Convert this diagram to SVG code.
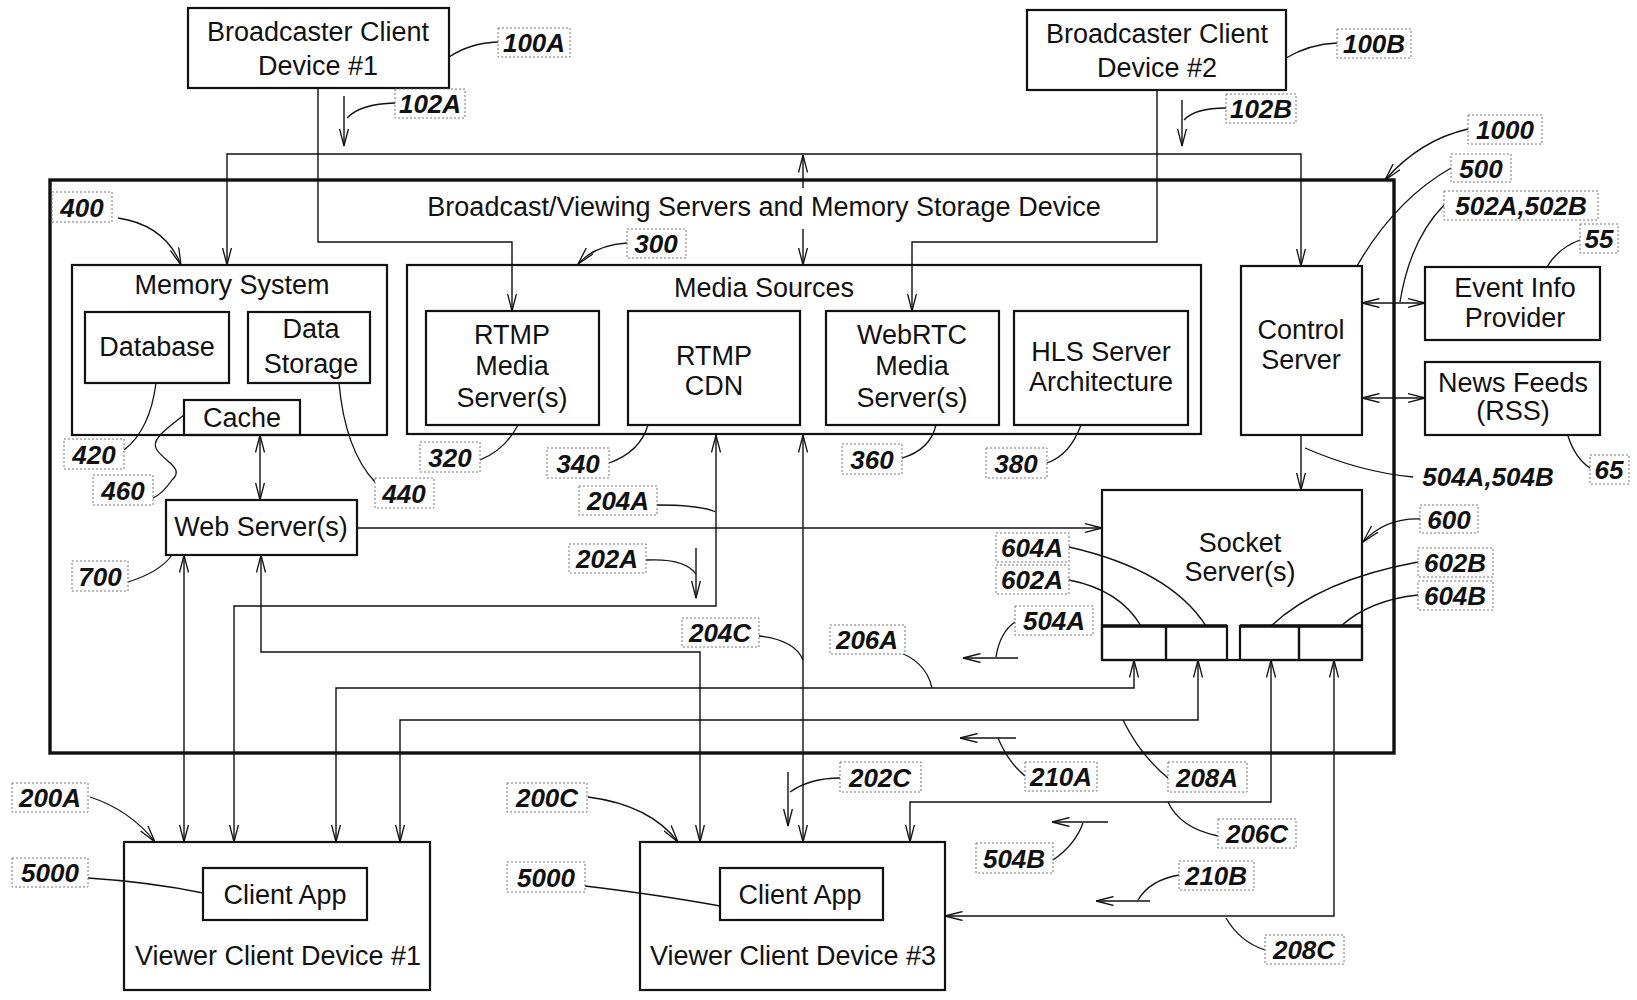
<svg xmlns="http://www.w3.org/2000/svg" width="1637" height="1000" viewBox="0 0 1637 1000">
<style>
.bx{fill:none;stroke:#111;stroke-width:2.2}
.outer{fill:none;stroke:#111;stroke-width:3.4}
.t{font-family:"Liberation Sans",Arial,sans-serif;font-size:27px;fill:#111;text-anchor:middle}
.lb rect{fill:#fff;stroke:#777;stroke-width:1;stroke-dasharray:2 2}
.lb text,.lt{font-family:"Liberation Sans",Arial,sans-serif;font-weight:bold;font-style:italic;font-size:26px;fill:#111;text-anchor:middle}
.ln{fill:none;stroke:#111;stroke-width:1.4}
.ld{fill:none;stroke:#111;stroke-width:1.3}
.a{marker-end:url(#ar)}
.aa{marker-start:url(#ar);marker-end:url(#ar)}
</style>
<defs>
<marker id="ar" viewBox="0 0 18 10" refX="17.5" refY="5" markerWidth="18" markerHeight="10" markerUnits="userSpaceOnUse" orient="auto-start-reverse">
<path d="M0,0.5 L17.5,5 L0,9.5" fill="none" stroke="#111" stroke-width="1.3"/>
</marker>
</defs>
<rect width="1637" height="1000" fill="#fff"/>

<g id="outer-1000">
<rect class="outer" x="50" y="180" width="1344" height="573"/>
<text class="t" x="764" y="216">Broadcast/Viewing Servers and Memory Storage Device</text>
</g>

<g id="connectors">
<path class="ln a" d="M318,88 V242 H512 V311"/>
<path class="ln a" d="M1157,90 V242 H912 V311"/>
<path class="ln aa" d="M227,265 V154 H1301 V266"/>
<path class="ln a" d="M803,188 V155"/>
<path class="ln a" d="M803,229 V265"/>
<path class="ln a" d="M1301,435 V490"/>
<path class="ln aa" d="M1362,303 H1425"/>
<path class="ln aa" d="M1362,398 H1425"/>
<path class="ln aa" d="M260,435 V500"/>
<path class="ln a" d="M357,528 H1102"/>
<path class="ln aa" d="M184,555 V842"/>
<path class="ln aa" d="M716,435 V606 H234 V842"/>
<path class="ln aa" d="M803,435 V842"/>
<path class="ln aa" d="M261,555 V652 H700 V842"/>
<path class="ln aa" d="M1134,660 V688 H336 V842"/>
<path class="ln aa" d="M1198,660 V720 H400 V842"/>
<path class="ln aa" d="M1271,660 V802 H910 V842"/>
<path class="ln aa" d="M1334,660 V916 H945"/>
<!-- direction indicators -->
<path class="ln a" d="M344,96 V146"/>
<path class="ln a" d="M1182,100 V146"/>
<path class="ln a" d="M696,548 V598"/>
<path class="ln a" d="M788,772 V826"/>
<path class="ln a" d="M1018,658 H963"/>
<path class="ln a" d="M1016,738 H960"/>
<path class="ln a" d="M1108,822 H1052"/>
<path class="ln a" d="M1150,901 H1096"/>
<!-- leaders -->
<path class="ld" d="M449,57 Q470,43 498,42"/>
<path class="ld" d="M347,118 Q360,104 395,103"/>
<path class="ld" d="M1286,58 Q1310,44 1337,43"/>
<path class="ld" d="M1184,120 Q1195,108 1226,108"/>
<path class="ld a" d="M1468,129 Q1420,140 1385,180"/>
<path class="ld" d="M1451,168 Q1395,200 1357,266"/>
<path class="ld" d="M1444,205 Q1410,240 1400,302"/>
<path class="ld" d="M1580,240 Q1558,248 1547,267"/>
<path class="ld" d="M1568,436 Q1575,458 1590,468"/>
<path class="ld" d="M1305,448 Q1360,472 1413,477"/>
<path class="ld a" d="M1420,519 Q1385,518 1363,542"/>
<path class="ld" d="M1069,547 Q1170,570 1206,626"/>
<path class="ld" d="M1069,580 Q1120,590 1141,626"/>
<path class="ld" d="M1418,562 Q1320,580 1271,626"/>
<path class="ld" d="M1418,595 Q1370,600 1341,626"/>
<path class="ld" d="M1015,622 Q1000,632 996,657"/>
<path class="ld" d="M893,650 Q926,660 932,688"/>
<path class="ld" d="M1123,720 Q1140,755 1168,778"/>
<path class="ld" d="M998,738 Q1008,762 1025,776"/>
<path class="ld" d="M840,778 Q810,778 790,792"/>
<path class="ld" d="M1168,802 Q1180,828 1218,836"/>
<path class="ld" d="M1083,823 Q1075,845 1053,860"/>
<path class="ld" d="M1179,875 Q1150,880 1138,900"/>
<path class="ld" d="M1226,918 Q1240,942 1265,950"/>
<path class="ld a" d="M90,797 Q130,810 155,842"/>
<path class="ld" d="M88,878 Q150,882 203,893"/>
<path class="ld a" d="M588,797 Q650,805 678,842"/>
<path class="ld" d="M585,886 Q660,895 720,906"/>
<path class="ld a" d="M118,218 Q165,225 181,265"/>
<path class="ld" d="M156,383 Q150,430 124,450"/>
<path class="ld" d="M184,415 C165,430 150,440 157,450 C165,462 185,468 172,480 C165,490 160,495 153,498"/>
<path class="ld" d="M339,383 Q345,450 375,482"/>
<path class="ld" d="M128,582 Q160,572 172,555"/>
<path class="ld a" d="M627,243 Q595,245 578,264"/>
<path class="ld" d="M518,425 Q505,450 480,460"/>
<path class="ld" d="M648,425 Q640,452 609,463"/>
<path class="ld" d="M936,425 Q930,450 902,458"/>
<path class="ld" d="M1081,425 Q1070,455 1047,463"/>
<path class="ld" d="M657,505 Q700,505 716,512"/>
<path class="ld" d="M646,560 Q685,558 696,574"/>
<path class="ld" d="M759,636 Q795,640 803,660"/>
</g>

<g id="bcd1"><rect class="bx" x="188" y="8" width="261" height="80"/><text class="t" x="318" y="41">Broadcaster Client</text><text class="t" x="318" y="75">Device #1</text></g>
<g id="bcd2"><rect class="bx" x="1027" y="10" width="259" height="80"/><text class="t" x="1157" y="43">Broadcaster Client</text><text class="t" x="1157" y="77">Device #2</text></g>

<g id="memory-system"><rect class="bx" x="72" y="265" width="315" height="170"/><text class="t" x="232" y="294">Memory System</text></g>
<g id="database"><rect class="bx" x="85" y="312" width="144" height="71"/><text class="t" x="157" y="356">Database</text></g>
<g id="data-storage"><rect class="bx" x="248" y="312" width="122" height="71"/><text class="t" x="311" y="338">Data</text><text class="t" x="311" y="373">Storage</text></g>
<g id="cache"><rect class="bx" x="184" y="400" width="116" height="35"/><text class="t" x="242" y="427">Cache</text></g>
<g id="web-server"><rect class="bx" x="166" y="500" width="191" height="55"/><text class="t" x="261" y="536">Web Server(s)</text></g>

<g id="media-sources"><rect class="bx" x="407" y="265" width="794" height="169"/><text class="t" x="764" y="297">Media Sources</text></g>
<g id="rtmp-media"><rect class="bx" x="426" y="311" width="173" height="114"/><text class="t" x="512" y="344">RTMP</text><text class="t" x="512" y="375">Media</text><text class="t" x="512" y="407">Server(s)</text></g>
<g id="rtmp-cdn"><rect class="bx" x="628" y="311" width="172" height="114"/><text class="t" x="714" y="365">RTMP</text><text class="t" x="714" y="395">CDN</text></g>
<g id="webrtc"><rect class="bx" x="826" y="311" width="173" height="114"/><text class="t" x="912" y="344">WebRTC</text><text class="t" x="912" y="375">Media</text><text class="t" x="912" y="407">Server(s)</text></g>
<g id="hls"><rect class="bx" x="1014" y="311" width="174" height="114"/><text class="t" x="1101" y="361">HLS Server</text><text class="t" x="1101" y="391">Architecture</text></g>

<g id="control-server"><rect class="bx" x="1241" y="266" width="121" height="169"/><text class="t" x="1301" y="339">Control</text><text class="t" x="1301" y="369">Server</text></g>
<g id="event-info"><rect class="bx" x="1425" y="267" width="175" height="73"/><text class="t" x="1515" y="297">Event Info</text><text class="t" x="1515" y="327">Provider</text></g>
<g id="news-feeds"><rect class="bx" x="1425" y="362" width="175" height="73"/><text class="t" x="1513" y="392">News Feeds</text><text class="t" x="1513" y="420">(RSS)</text></g>

<g id="socket-server"><rect class="bx" x="1102" y="490" width="260" height="170"/><text class="t" x="1240" y="552">Socket</text><text class="t" x="1240" y="581">Server(s)</text>
<rect class="bx" x="1102" y="626" width="64" height="34"/><rect class="bx" x="1166" y="626" width="61" height="34"/>
<rect class="bx" x="1240" y="626" width="59" height="34"/><rect class="bx" x="1299" y="626" width="63" height="34"/>
<path d="M1102,626 H1227 M1240,626 H1362" stroke="#111" stroke-width="3.5"/></g>

<g id="viewer1"><rect class="bx" x="124" y="842" width="306" height="148"/><rect class="bx" x="203" y="868" width="164" height="52"/><text class="t" x="285" y="904">Client App</text><text class="t" x="278" y="965">Viewer Client Device #1</text></g>
<g id="viewer3"><rect class="bx" x="640" y="842" width="305" height="148"/><rect class="bx" x="720" y="868" width="163" height="52"/><text class="t" x="800" y="904">Client App</text><text class="t" x="793" y="965">Viewer Client Device #3</text></g>

<g id="labels">
<g class="lb"><rect x="498" y="28" width="72" height="29"/><text x="534" y="52">100A</text></g>
<g class="lb"><rect x="395" y="89" width="70" height="29"/><text x="430" y="113">102A</text></g>
<g class="lb"><rect x="1337" y="29" width="74" height="29"/><text x="1374" y="53">100B</text></g>
<g class="lb"><rect x="1226" y="94" width="70" height="29"/><text x="1261" y="118">102B</text></g>
<g class="lb"><rect x="1468" y="115" width="74" height="29"/><text x="1505" y="139">1000</text></g>
<g class="lb"><rect x="1451" y="154" width="60" height="28"/><text x="1481" y="178">500</text></g>
<g class="lb"><rect x="1444" y="191" width="154" height="29"/><text x="1521" y="215">502A,502B</text></g>
<g class="lb"><rect x="1580" y="224" width="38" height="29"/><text x="1599" y="248">55</text></g>
<g class="lb"><rect x="1590" y="455" width="39" height="29"/><text x="1609" y="479">65</text></g>
<text class="lt" x="1488" y="486">504A,504B</text>
<g class="lb"><rect x="1420" y="505" width="58" height="28"/><text x="1449" y="529">600</text></g>
<g class="lb"><rect x="996" y="533" width="73" height="29"/><text x="1032" y="557">604A</text></g>
<g class="lb"><rect x="996" y="565" width="73" height="29"/><text x="1032" y="589">602A</text></g>
<g class="lb"><rect x="1418" y="548" width="75" height="29"/><text x="1455" y="572">602B</text></g>
<g class="lb"><rect x="1418" y="581" width="75" height="29"/><text x="1455" y="605">604B</text></g>
<g class="lb"><rect x="1015" y="606" width="78" height="29"/><text x="1054" y="630">504A</text></g>
<g class="lb"><rect x="830" y="625" width="75" height="29"/><text x="867" y="649">206A</text></g>
<g class="lb"><rect x="579" y="486" width="78" height="29"/><text x="618" y="510">204A</text></g>
<g class="lb"><rect x="569" y="544" width="77" height="29"/><text x="607" y="568">202A</text></g>
<g class="lb"><rect x="682" y="618" width="77" height="29"/><text x="720" y="642">204C</text></g>
<g class="lb"><rect x="1168" y="762" width="79" height="30"/><text x="1207" y="787">208A</text></g>
<g class="lb"><rect x="1025" y="762" width="72" height="29"/><text x="1061" y="786">210A</text></g>
<g class="lb"><rect x="840" y="762" width="81" height="30"/><text x="880" y="787">202C</text></g>
<g class="lb"><rect x="1218" y="819" width="78" height="29"/><text x="1257" y="843">206C</text></g>
<g class="lb"><rect x="976" y="843" width="77" height="30"/><text x="1014" y="868">504B</text></g>
<g class="lb"><rect x="1179" y="861" width="75" height="29"/><text x="1216" y="885">210B</text></g>
<g class="lb"><rect x="1265" y="935" width="79" height="29"/><text x="1304" y="959">208C</text></g>
<g class="lb"><rect x="12" y="783" width="76" height="29"/><text x="50" y="807">200A</text></g>
<g class="lb"><rect x="12" y="858" width="76" height="29"/><text x="50" y="882">5000</text></g>
<g class="lb"><rect x="507" y="783" width="80" height="29"/><text x="547" y="807">200C</text></g>
<g class="lb"><rect x="507" y="862" width="78" height="30"/><text x="546" y="887">5000</text></g>
<g class="lb"><rect x="52" y="192" width="60" height="30"/><text x="82" y="217">400</text></g>
<g class="lb"><rect x="64" y="439" width="60" height="30"/><text x="94" y="464">420</text></g>
<g class="lb"><rect x="93" y="475" width="60" height="30"/><text x="123" y="500">460</text></g>
<g class="lb"><rect x="375" y="478" width="59" height="30"/><text x="404" y="503">440</text></g>
<g class="lb"><rect x="72" y="561" width="56" height="30"/><text x="100" y="586">700</text></g>
<g class="lb"><rect x="627" y="229" width="59" height="29"/><text x="656" y="253">300</text></g>
<g class="lb"><rect x="420" y="442" width="60" height="30"/><text x="450" y="467">320</text></g>
<g class="lb"><rect x="547" y="448" width="62" height="30"/><text x="578" y="473">340</text></g>
<g class="lb"><rect x="842" y="444" width="60" height="30"/><text x="872" y="469">360</text></g>
<g class="lb"><rect x="986" y="448" width="61" height="30"/><text x="1016" y="473">380</text></g>
</g>
</svg>
